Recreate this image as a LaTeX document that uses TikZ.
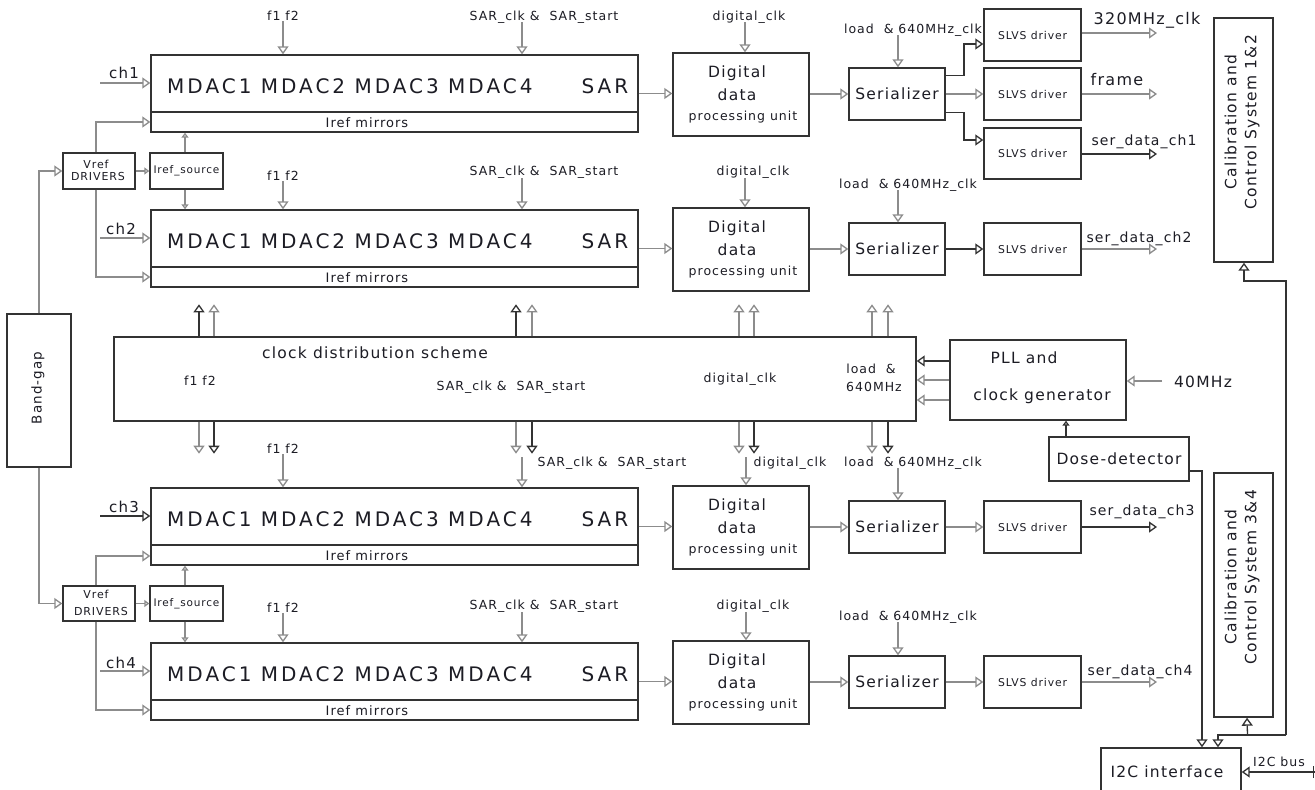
\documentclass[tikz,border=0pt]{standalone}
\usepackage{fontspec}
\setmainfont{DejaVu Sans}[LetterSpace=8]
\usetikzlibrary{arrows.meta,calc}
\definecolor{lg}{HTML}{8C8C8C}
\definecolor{dk}{HTML}{333333}
\definecolor{tx}{HTML}{1C1C24}
\newcommand\fsz[1]{\fontsize{#1}{#1}\selectfont}
\newcommand\bx[6]{\node[boxst, minimum width={((#4)-(#2))*1pt}, minimum height={((#5)-(#3))*1pt}] (#1) at ({((#2)+(#4))/2},{((#3)+(#5))/2}) {#6};}
\begin{document}
\begin{tikzpicture}[x=1pt,y=-1pt,
  boxst/.style={draw=dk,line width=1.4pt,inner sep=0pt,text=tx,align=center},
  lbl/.style={inner sep=0pt,text=tx,text depth=0pt,font=\fsz{12.5}},
  rot/.style={inner sep=0pt,text=tx,rotate=90,align=center},
  ar/.style={draw=lg,line width=1.3pt,-{Triangle[open,length=8pt,width=11pt]}},
  ard/.style={ar,draw=dk},
  sm/.style={-{Triangle[open,length=5pt,width=7pt]}},
  mdacf/.style={inner sep=0pt,text=tx,text depth=0pt,font=\fsz{20}\addfontfeatures{LetterSpace=15}},
]
\fill[white] (0,0) rectangle (1315,790);
\useasboundingbox (0,0) rectangle (1315,790);

% ---------- four channel rows ----------
\foreach \T/\n/\c in {55/1/lg,210/2/lg,488/3/dk,643/4/lg}{
  \bx{mdac\n}{151}{\T}{638}{\T+77}{}
  \draw[draw=dk,line width=1.4pt] (151,\T+57) -- (638,\T+57);
  \node[mdacf,anchor=west] at (167,\T+31) {MDAC1 MDAC2 MDAC3 MDAC4};
  \node[mdacf] at (605,\T+31) {SAR};
  \node[lbl,font=\fsz{13}] at (367,\T+68) {Iref mirrors};
  \bx{dig\n}{673}{\T-2}{809}{\T+81}{}
  \node[lbl,font=\fsz{15.5}] at (737,\T+17) {Digital};
  \node[lbl,font=\fsz{15.5}] at (737,\T+40) {data};
  \node[lbl,font=\fsz{12.5}] at (743,\T+61) {processing unit};
  \bx{ser\n}{849}{\T+13}{945}{\T+65}{\fsz{15.5}Serializer}
  \draw[ar] (mdac\n.east) -- (mdac\n.east -| dig\n.west);
  \draw[ar] (dig\n.east |- ser\n.west) -- (ser\n.west);
  \coordinate (chs\n) at (100,\T+28);
  \draw[ar,draw=\c] (chs\n) -- (chs\n -| mdac\n.west);
}
\node[lbl,font=\fsz{15}] at (124,73) {ch1};
\node[lbl,font=\fsz{15}] at (121,229) {ch2};
\node[lbl,font=\fsz{15}] at (124,507) {ch3};
\node[lbl,font=\fsz{15}] at (121,663) {ch4};

% SLVS rows 2-4
\foreach \T/\n/\c/\d in {210/2/dk/lg,488/3/lg/dk,643/4/lg/lg}{
  \bx{slvs\n}{984}{\T+13}{1081}{\T+65}{\fsz{10.8}SLVS driver}
  \draw[ar,draw=\c] (ser\n) -- (slvs\n);
  \coordinate (out\n) at (1157,\T+39);
  \draw[ar,draw=\d] (slvs\n.east) -- (out\n);
}
\node[lbl,font=\fsz{14}] at (1139,237) {ser\_data\_ch2};
\node[lbl,font=\fsz{14}] at (1142,510) {ser\_data\_ch3};
\node[lbl,font=\fsz{14}] at (1140,670) {ser\_data\_ch4};

% SLVS row 1
\bx{sla}{984}{9}{1081}{61}{\fsz{10.8}SLVS driver}
\bx{slb}{984}{68}{1081}{120}{\fsz{10.8}SLVS driver}
\bx{slc}{984}{128}{1081}{179}{\fsz{10.8}SLVS driver}
\draw[ard] ($(ser1.north east)+(0,8)$) -| (964,44) -- ($(sla.west)+(0,9)$);
\draw[ar] (ser1) -- (slb);
\draw[ard] ($(ser1.south east)+(0,-8)$) -| (964,140) -- ($(slc.west)+(0,-13.5)$);
\coordinate (oa) at (1157,33);
\coordinate (ob) at (1157,94);
\coordinate (oc) at (1157,154);
\draw[ar] (sla.east |- oa) -- (oa);
\draw[ar] (slb.east) -- (ob);
\draw[ard] (slc.east |- oc) -- (oc);
\node[lbl,font=\fsz{16}] at (1147,18) {320MHz\_clk};
\node[lbl,font=\fsz{16}] at (1117,79) {frame};
\node[lbl,font=\fsz{14}] at (1144,140) {ser\_data\_ch1};

% ---------- control labels above rows ----------
% row 1
\node[lbl] (fa1) at (283,16) {f1 f2};
\draw[ar] (fa1.south) -- (fa1.south |- mdac1.north);
\node[lbl] (sa1) at (544,16) {SAR\_clk \&~ SAR\_start};
\coordinate (sa1s) at (522,22); \draw[ar] (sa1s) -- (sa1s |- mdac1.north);
\node[lbl] (da1) at (749,16) {digital\_clk};
\coordinate (da1s) at (745,22); \draw[ar] (da1s) -- (da1s |- dig1.north);
\node[lbl] (la1) at (913,29) {load~ \& 640MHz\_clk};
\coordinate (la1s) at (898,35); \draw[ar] (la1s) -- (la1s |- ser1.north);
% row 2
\node[lbl] (fa2) at (283,176) {f1 f2};
\draw[ar] (fa2.south) -- (fa2.south |- mdac2.north);
\node[lbl] (sa2) at (544,171) {SAR\_clk \&~ SAR\_start};
\coordinate (sa2s) at (522,178); \draw[ar] (sa2s) -- (sa2s |- mdac2.north);
\node[lbl] (da2) at (753,171) {digital\_clk};
\coordinate (da2s) at (745,178); \draw[ar] (da2s) -- (da2s |- dig2.north);
\node[lbl] (la2) at (908,184) {load~ \& 640MHz\_clk};
\coordinate (la2s) at (898,190); \draw[ar] (la2s) -- (la2s |- ser2.north);
% row 3
\node[lbl] (fa3) at (283,449) {f1 f2};
\draw[ar] (fa3.south) -- (fa3.south |- mdac3.north);
\node[lbl] (sa3) at (612,462) {SAR\_clk \&~ SAR\_start};
\coordinate (sa3s) at (522,457); \draw[ar] (sa3s) -- (sa3s |- mdac3.north);
\node[lbl] (da3) at (790,462) {digital\_clk};
\coordinate (da3s) at (746,457); \draw[ar] (da3s) -- (da3s |- dig3.north);
\node[lbl] (la3) at (913,462) {load~ \& 640MHz\_clk};
\coordinate (la3s) at (898,468); \draw[ar] (la3s) -- (la3s |- ser3.north);
% row 4
\node[lbl] (fa4) at (283,608) {f1 f2};
\draw[ar] (fa4.south) -- (fa4.south |- mdac4.north);
\node[lbl] (sa4) at (544,605) {SAR\_clk \&~ SAR\_start};
\coordinate (sa4s) at (522,612); \draw[ar] (sa4s) -- (sa4s |- mdac4.north);
\node[lbl] (da4) at (753,605) {digital\_clk};
\coordinate (da4s) at (746,612); \draw[ar] (da4s) -- (da4s |- dig4.north);
\node[lbl] (la4) at (908,616) {load~ \& 640MHz\_clk};
\coordinate (la4s) at (898,622); \draw[ar] (la4s) -- (la4s |- ser4.north);

% ---------- clock distribution ----------
\bx{clk}{114}{337}{916}{421}{}
\node[lbl,font=\fsz{15.5}] at (375,353) {clock distribution scheme};
\node[lbl] at (200,381) {f1 f2};
\node[lbl] at (511,386) {SAR\_clk \&~ SAR\_start};
\node[lbl] at (740,378) {digital\_clk};
\node[lbl] at (871,369) {load~ \&};
\node[lbl] at (874,387) {640MHz};
\foreach \x/\c in {199/dk,214/lg,516/dk,532/lg,739/lg,754/lg,872/lg,888/lg}
  \draw[ar,draw=\c] (clk.north -| \x,0) -- ++(0,-32);
\foreach \x/\c in {199/lg,214/dk,516/lg,532/dk,739/lg,754/dk,872/lg,888/dk}
  \draw[ar,draw=\c] (clk.south -| \x,0) -- ++(0,32);

% PLL
\bx{pll}{950}{340}{1126}{420}{}
\node[lbl,font=\fsz{15.5}] at (1024,358) {PLL and};
\node[lbl,font=\fsz{15.5}] at (1042,395) {clock generator};
\draw[ard] (pll.west |- 0,361) -- (clk.east |- 0,361);
\draw[ar] (pll.west |- 0,380) -- (clk.east |- 0,380);
\draw[ar] (pll.west |- 0,400) -- (clk.east |- 0,400);
\coordinate (f40) at (1162,381);
\draw[ar] (f40) -- (pll.east |- f40);
\node[lbl,font=\fsz{15.5}] at (1203,382) {40MHz};

% Dose detector
\bx{dose}{1049}{437}{1189}{481}{\fsz{15.5}Dose-detector}
\draw[ard,sm] (dose.north -| 1066,0) -- (pll.south -| 1066,0);

% ---------- band-gap, vref, iref ----------
\bx{bg}{7}{314}{71}{467}{}
\node[rot,font=\fsz{13.5}] at (38,388) {Band-gap};
\bx{vref1}{63}{153}{135}{189}{}
\node[lbl,font=\fsz{11}] at (96,164) {Vref};
\node[lbl,font=\fsz{11}] at (98,176) {DRIVERS};
\bx{iref1}{150}{153}{223}{189}{\fsz{10.5}Iref\_source}
\bx{vref2}{63}{586}{135}{621}{}
\node[lbl,font=\fsz{11}] at (96,594.5) {Vref};
\node[lbl,font=\fsz{11}] at (101,611.5) {DRIVERS};
\bx{iref2}{150}{586}{223}{621}{\fsz{10.5}Iref\_source}

\draw[ar] (bg.north) |- (vref1.west);
\draw[ar] (bg.south) |- (vref2.west);
\draw[ar,sm] (vref1.east) -- (iref1.west);
\draw[ar,sm] (vref2.east) -- (iref2.west);
\draw[ar] ($(vref1.north)+(-3,0)$) |- (mdac1.west |- 0,122);
\draw[ar] ($(vref1.south)+(-3,0)$) |- (mdac2.west |- 0,277);
\draw[ar] ($(vref2.north)+(-3,0)$) |- (mdac3.west |- 0,556);
\draw[ar] ($(vref2.south)+(-3,0)$) |- (mdac4.west |- 0,710);
\draw[ar,sm] (iref1.north -| 185,0) -- (mdac1.south -| 185,0);
\draw[ar,sm] (iref1.south -| 185,0) -- (mdac2.north -| 185,0);
\draw[ar,sm] (iref2.north -| 185,0) -- (mdac3.south -| 185,0);
\draw[ar,sm] (iref2.south -| 185,0) -- (mdac4.north -| 185,0);

% ---------- calibration & I2C ----------
\bx{cal12}{1214}{18}{1273}{262}{}
\node[rot,font={\fontsize{15.5}{20}\selectfont}] at (1242,122) {Calibration and\\Control System 1\&2};
\bx{cal34}{1214}{473}{1273}{717}{}
\node[rot,font={\fontsize{15.5}{20}\selectfont}] at (1242,577) {Calibration and\\Control System 3\&4};
\bx{i2c}{1101}{748}{1241}{800}{}
\node[lbl,font=\fsz{15.5}] at (1167,772) {I2C interface};

\coordinate (jn) at (1286,735);
\draw[ard] (jn) |- (1244,281) -- (cal12.south -| 1244,0);
\draw[ard] (jn) -| (i2c.north -| 1218,0);
\draw[ard] (cal34.south |- jn) ++(4,0) -- (cal34.south -| 1247,0);
\draw[ard] (dose.east |- 0,471) -| (i2c.north -| 1202,0);
\coordinate (busE) at (1315,772);
\draw[ard] (busE) -- (i2c.east |- busE);
\draw[draw=dk,line width=1.3pt] (1313.5,766) -- (1313.5,778);
\node[lbl] at (1279,762) {I2C bus};
\end{tikzpicture}
\end{document}
